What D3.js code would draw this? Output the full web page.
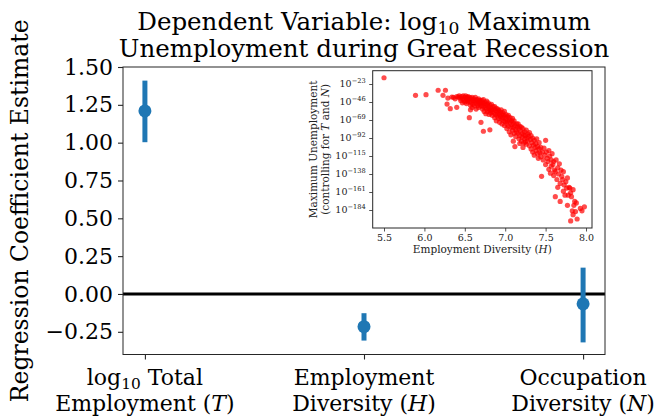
<!DOCTYPE html>
<html>
<head>
<meta charset="utf-8">
<script src="https://cdn.jsdelivr.net/npm/d3@7"></script>
<style>
  html, body { margin: 0; padding: 0; background: #fff; }
  svg { display: block; font-family: "DejaVu Serif", serif; }
</style>
</head>
<body>
<svg id="chart" width="662" height="420"></svg>
<script>
// ---------------- data ----------------
const categories = ["T", "H", "N"];
const categoryLabels = [
  ["log_{10} Total", "Employment ($T$)"],
  ["Employment", "Diversity ($H$)"],
  ["Occupation", "Diversity ($N$)"]
];
const estimates = [1.21, -0.216, -0.065];
const ciLower = [1.003, -0.308, -0.32];
const ciUpper = [1.41, -0.127, 0.174];
const yTicks = [-0.25, 0, 0.25, 0.5, 0.75, 1.0, 1.25, 1.5];
const titleLines = ["Dependent Variable: log_{10} Maximum", "Unemployment during Great Recession"];
const yLabel = "Regression Coefficient Estimate";

// inset: employment diversity (H) vs exponent of max unemployment (controlling for T and N)
const insetPoints = [
  [5.50,-15],[5.89,-37.5],[6.02,-36.6],[6.17,-31],[6.26,-31],[6.23,-37.5],[6.29,-41],[6.34,-39.6],
  [6.28,-48.6],[6.32,-54.5],[6.40,-52.8],[6.42,-39.6],[6.36,-40],[6.38,-42],[6.40,-39],[6.43,-38],[6.45,-44],
  [6.46,-39],[6.47,-42],[6.48,-38],[6.49,-44],[6.50,-40],[6.50,-46],[6.51,-38],[6.52,-42],[6.52,-48],
  [6.53,-40],[6.53,-44],[6.54,-39],[6.54,-46],[6.55,-42],[6.47,-47],[6.44,-41],
  [6.56,-40],[6.56,-45],[6.57,-50],[6.58,-42],[6.58,-47],[6.59,-40],[6.59,-53],[6.60,-44],[6.60,-49],
  [6.61,-42],[6.62,-46],[6.62,-51],[6.63,-40],[6.63,-44],[6.64,-48],[6.64,-55],[6.65,-43],[6.66,-46],
  [6.66,-50],[6.67,-42],[6.67,-53],[6.68,-45],[6.68,-48],[6.69,-44],[6.69,-51],[6.70,-47],[6.556,-66],[6.57,-56],
  [6.71,-44],[6.71,-50],[6.72,-47],[6.72,-55],[6.73,-43],[6.73,-52],[6.74,-48],[6.74,-58],[6.75,-46],
  [6.75,-53],[6.76,-50],[6.76,-61],[6.77,-45],[6.77,-55],[6.78,-49],[6.78,-58],[6.79,-52],[6.79,-47],
  [6.80,-55],[6.80,-62],[6.81,-50],[6.81,-57],[6.82,-53],[6.82,-60],[6.83,-49],[6.83,-56],[6.84,-58],
  [6.84,-63],[6.85,-52],[6.70,-72],[6.73,-83.4],[6.81,-81.6],
  [6.86,-55],[6.86,-60],[6.87,-52],[6.87,-66],[6.88,-57],[6.88,-62],[6.89,-54],[6.89,-70],[6.90,-58],
  [6.90,-64],[6.91,-55],[6.91,-61],[6.92,-67],[6.92,-57],[6.93,-62],[6.93,-72],[6.94,-59],[6.94,-65],
  [6.95,-56],[6.95,-68],[6.96,-62],[6.96,-74],[6.97,-60],[6.97,-66],[6.98,-70],[6.98,-63],[6.99,-58],
  [6.99,-76],[7.00,-65],[7.00,-71],
  [7.01,-62],[7.01,-68],[7.02,-74],[7.02,-80],[7.03,-65],[7.03,-71],[7.04,-77],[7.04,-63],[7.05,-69],
  [7.05,-84],[7.06,-72],[7.06,-66],[7.07,-78],[7.07,-88],[7.08,-70],[7.08,-75],[7.09,-82],[7.09,-67],
  [7.10,-73],[7.10,-79],[7.11,-86],[7.11,-70],[7.12,-76],[7.12,-103],[7.13,-81],[7.13,-90],[7.14,-74],
  [7.14,-84],[7.15,-78],[7.10,-96],
  [7.16,-74],[7.16,-86],[7.17,-80],[7.17,-93],[7.18,-77],[7.18,-89],[7.19,-83],[7.20,-78],[7.20,-96],
  [7.21,-86],[7.21,-91],[7.22,-80],[7.23,-88],[7.23,-98],[7.24,-84],[7.24,-93],[7.25,-89],[7.26,-82],
  [7.26,-100],[7.27,-92],[7.28,-87],[7.28,-96],[7.29,-90],[7.30,-85],[7.30,-102],[7.18,-99],[7.22,-104],[7.25,-97],
  [7.31,-94],[7.32,-89],[7.32,-106],[7.33,-98],[7.34,-92],[7.34,-110],[7.35,-101],[7.36,-95],[7.36,-114],
  [7.37,-104],[7.38,-99],[7.38,-108],[7.39,-93],[7.40,-112],[7.40,-103],[7.41,-118],[7.42,-106],[7.42,-98],
  [7.43,-111],[7.44,-104],[7.44,-116],[7.45,-141],
  [7.46,-110],[7.47,-120],[7.48,-105],[7.49,-114],[7.50,-95],[7.50,-126],[7.51,-110],[7.52,-118],[7.53,-122],
  [7.54,-108],[7.54,-132],[7.55,-115],[7.56,-137],[7.57,-120],[7.57,-128],[7.58,-112],[7.59,-126],[7.60,-122],[7.60,-140],
  [7.61,-133],[7.62,-167],[7.62,-135],[7.63,-120],[7.64,-145],[7.65,-130],[7.65,-155],[7.66,-138],[7.67,-125],
  [7.68,-150],[7.68,-173],[7.69,-133],[7.70,-141],
  [7.71,-145],[7.72,-135],[7.72,-160],[7.73,-152],[7.74,-165],[7.75,-148],[7.76,-156],[7.77,-178],[7.77,-143],
  [7.78,-165],[7.79,-155],[7.80,-156],
  [7.81,-198],[7.81,-162],[7.82,-167],[7.83,-185],[7.84,-158],[7.84,-190],[7.85,-178],[7.86,-173],[7.87,-186],[7.89,-195.5],
  [7.88,-175],[7.93,-182],[7.95,-185],[7.98,-180]
];
const insetXTicks = [5.5, 6.0, 6.5, 7.0, 7.5, 8.0];
const insetYTicks = [-23, -46, -69, -92, -115, -138, -161, -184];
const insetXLabel = "Employment Diversity ($H$)";
const insetYLabel = ["Maximum Unemployment", "(controlling for $T$ and $N$)"];

// ---------------- helpers ----------------
function rich(textSel, str, size) {
  const re = /(_\{[^}]*\}|\^\{[^}]*\}|\$[^$]*\$)/g;
  const parts = str.split(re).filter(s => s && s.length);
  let shift = 0;
  parts.forEach(p => {
    let content = p, fs = size, newShift = 0, italic = false;
    if (p.startsWith("_{")) { content = p.slice(2, -1); fs = size * 0.7; newShift = size * 0.17; }
    else if (p.startsWith("^{")) { content = p.slice(2, -1); fs = size * 0.7; newShift = -size * 0.42; }
    else if (p.startsWith("$")) { content = p.slice(1, -1); italic = true; }
    const t = textSel.append("tspan")
      .attr("dy", (newShift - shift).toFixed(2))
      .style("font-size", fs + "px")
      .text(content);
    if (italic) t.style("font-style", "italic");
    shift = newShift;
  });
}

// ---------------- main chart ----------------
const svg = d3.select("#chart");
const m = { left: 123, right: 605, top: 67, bottom: 354.5 };
const blue = "#1f77b4";
const spine = "#262626";

const x = d3.scalePoint().domain(categories).range([m.left, m.right]).padding(0.1);
const y = d3.scaleLinear().domain([-0.40, 1.50]).range([m.bottom, m.top]);

// title
titleLines.forEach((line, i) => {
  const t = svg.append("text")
    .attr("x", (m.left + m.right) / 2)
    .attr("y", 30 + i * 26.5)
    .attr("text-anchor", "middle")
    .attr("fill", "#000")
    .style("font-size", "24.5px");
  rich(t, line, 24.5);
});

// y axis
const yAxis = d3.axisLeft(y).tickValues(yTicks).tickFormat(d3.format(".2f")).tickSize(5).tickPadding(5);
const gy = svg.append("g").attr("transform", `translate(${m.left},0)`).call(yAxis);
gy.select(".domain").remove();
gy.selectAll(".tick line").attr("stroke", spine).attr("stroke-width", 1.1);
gy.selectAll(".tick text").attr("fill", "#000").style("font-size", "22px")
  .style("font-family", "DejaVu Serif, serif");

// x axis
const xAxis = d3.axisBottom(x).tickFormat("").tickSize(5);
const gx = svg.append("g").attr("transform", `translate(0,${m.bottom})`).call(xAxis);
gx.select(".domain").remove();
gx.selectAll(".tick line").attr("stroke", spine).attr("stroke-width", 1.1);

categories.forEach((c, i) => {
  categoryLabels[i].forEach((line, j) => {
    const t = svg.append("text")
      .attr("x", x(c))
      .attr("y", 385 + j * 26)
      .attr("text-anchor", "middle")
      .attr("fill", "#000")
      .style("font-size", "22px");
    rich(t, line, 22);
  });
});

// y label
svg.append("text")
  .attr("transform", `translate(20,${(m.top + m.bottom) / 2}) rotate(-90)`)
  .attr("text-anchor", "middle")
  .attr("dominant-baseline", "central")
  .attr("fill", "#000")
  .style("font-size", "23.5px")
  .text(yLabel);

// zero line
svg.append("line")
  .attr("x1", m.left).attr("x2", m.right)
  .attr("y1", y(0)).attr("y2", y(0))
  .attr("stroke", "#000").attr("stroke-width", 3);

// error bars
svg.append("g").selectAll("line").data(categories).join("line")
  .attr("x1", d => x(d)).attr("x2", d => x(d))
  .attr("y1", (d, i) => y(ciLower[i])).attr("y2", (d, i) => y(ciUpper[i]))
  .attr("stroke", blue).attr("stroke-width", 5);
svg.append("g").selectAll("circle").data(categories).join("circle")
  .attr("cx", d => x(d)).attr("cy", (d, i) => y(estimates[i]))
  .attr("r", 6.5).attr("fill", blue);

// frame
svg.append("rect")
  .attr("x", m.left).attr("y", m.top)
  .attr("width", m.right - m.left).attr("height", m.bottom - m.top)
  .attr("fill", "none").attr("stroke", spine).attr("stroke-width", 1);

// ---------------- inset ----------------
const im = { left: 372.7, right: 592, top: 70.7, bottom: 228 };
const ix = d3.scaleLinear().domain([5.36, 8.074]).range([im.left, im.right]);
const iy = d3.scaleLinear().domain([-207, -6]).range([im.bottom, im.top]);

svg.append("rect")
  .attr("x", im.left).attr("y", im.top)
  .attr("width", im.right - im.left).attr("height", im.bottom - im.top)
  .attr("fill", "#fff");

svg.append("g").selectAll("circle").data(insetPoints).join("circle")
  .attr("cx", d => ix(d[0])).attr("cy", d => iy(d[1]))
  .attr("r", 2.6).attr("fill", "#ff0000").attr("fill-opacity", 0.7);

svg.append("rect")
  .attr("x", im.left).attr("y", im.top)
  .attr("width", im.right - im.left).attr("height", im.bottom - im.top)
  .attr("fill", "none").attr("stroke", spine).attr("stroke-width", 1);

const ixAxis = d3.axisBottom(ix).tickValues(insetXTicks).tickFormat(d3.format(".1f")).tickSize(3.5).tickPadding(3);
const gix = svg.append("g").attr("transform", `translate(0,${im.bottom})`).call(ixAxis);
gix.select(".domain").remove();
gix.selectAll(".tick line").attr("stroke", spine).attr("stroke-width", 0.8);
gix.selectAll(".tick text").attr("fill", "#222").style("font-size", "9.5px")
  .style("font-family", "DejaVu Serif, serif");

const iyAxis = d3.axisLeft(iy).tickValues(insetYTicks).tickFormat("").tickSize(3.5);
const giy = svg.append("g").attr("transform", `translate(${im.left},0)`).call(iyAxis);
giy.select(".domain").remove();
giy.selectAll(".tick line").attr("stroke", spine).attr("stroke-width", 0.8);
insetYTicks.forEach(v => {
  const t = svg.append("text")
    .attr("x", im.left - 7)
    .attr("y", iy(v) + 3.4)
    .attr("text-anchor", "end")
    .attr("fill", "#222")
    .style("font-size", "9.5px");
  rich(t, "10^{" + d3.format("d")(v) + "}", 9.5);
});

const ixl = svg.append("text")
  .attr("x", (im.left + im.right) / 2).attr("y", 253)
  .attr("text-anchor", "middle").attr("fill", "#222")
  .style("font-size", "10.5px");
rich(ixl, insetXLabel, 10.5);

insetYLabel.forEach((line, j) => {
  const t = svg.append("text")
    .attr("transform", `translate(${317 + j * 12},${(im.top + im.bottom) / 2}) rotate(-90)`)
    .attr("text-anchor", "middle")
    .attr("fill", "#222")
    .style("font-size", "10.5px");
  rich(t, line, 10.5);
});
</script>
</body>
</html>
